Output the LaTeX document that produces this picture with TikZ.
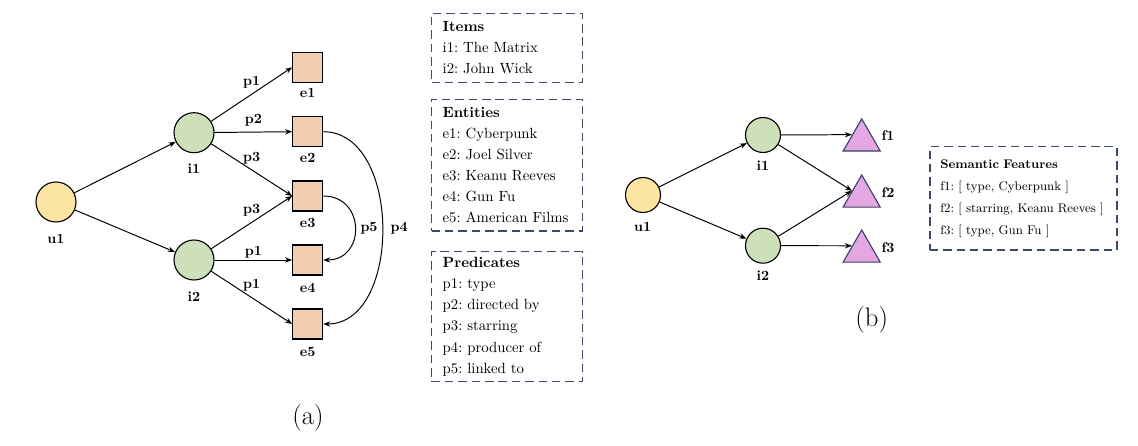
\documentclass[tikz,border=0pt]{standalone}
\usepackage{amsmath}
\usetikzlibrary{arrows.meta, shapes.geometric}

\definecolor{userfill}{HTML}{FCE4A2}
\definecolor{itemfill}{HTML}{CDE0B9}
\definecolor{entfill}{HTML}{F3CDB0}
\definecolor{featfill}{HTML}{E3A8E3}
\definecolor{featdraw}{HTML}{3E3D6B}
\definecolor{boxdraw}{HTML}{3C4A6B}

\tikzset{
    nlbl/.style={font=\fontsize{10}{12}\selectfont\bfseries, inner sep=0pt},
    user/.style={circle, draw, fill=userfill, line width=0.8pt, inner sep=0pt, minimum size=1cm},
    item/.style={circle, draw, fill=itemfill, line width=0.8pt, inner sep=0pt, minimum size=1cm},
    entity/.style={rectangle, draw, fill=entfill, line width=0.8pt, inner sep=0pt, minimum size=0.75cm},
    feat/.style={regular polygon, regular polygon sides=3, draw=featdraw, fill=featfill, line width=0.8pt, inner sep=0pt, minimum size=1.07cm},
    infobox/.style={draw=boxdraw, dash pattern=on 6pt off 3.5pt, line width=1.1pt, align=left, inner xsep=0.275cm, inner ysep=0pt, font=\fontsize{10.5}{15}\selectfont\frenchspacing},
    link/.style={-{Stealth[length=5pt, width=3.8pt]}, line width=0.7pt},
}

\begin{document}
\begin{tikzpicture}[x=0.025cm, y=-0.025cm]
    \useasboundingbox (0,0) rectangle (1138,446);

    % --- (a) user, items, entities ---
    \node[user] (u1a) at (56,202) {};
    \node[item] (i1a) at (194,132.7) {};
    \node[item] (i2a) at (194,260) {};
    \node[entity] (e1) at (307.7,67.3) {};
    \node[entity] (e2) at (307.7,131.7) {};
    \node[entity] (e3) at (307.7,196) {};
    \node[entity] (e4) at (307.7,260) {};
    \node[entity] (e5) at (307.7,324) {};

    % names under the nodes
    \node[nlbl] (u1al) at (56,239.3) {u1};
    \node[nlbl] (i1al) at (194,168.3) {i1};
    \node[nlbl] (i2al) at (194,296.5) {i2};
    \node[nlbl] (e1l) at (307.7,93.3) {e1};
    \node[nlbl] (e2l) at (307.7,158.3) {e2};
    \node[nlbl] (e3l) at (307.7,222.5) {e3};
    \node[nlbl] (e4l) at (307.7,287.5) {e4};
    \node[nlbl] (e5l) at (307.7,351.5) {e5};

    % --- (a) interactions and predicates ---
    \draw[link] (u1a) -- (i1a);
    \draw[link] (u1a) -- (i2a);
    \draw[link] (i1a) -- node[nlbl, above=3.9pt] {p1} (e1.west);
    \draw[link] (i1a) -- node[nlbl, above=3.9pt] {p2} (e2.west);
    \draw[link] (i1a) -- node[nlbl, above=3.9pt] {p3} (e3.west);
    \draw[link] (i2a) -- node[nlbl, above=3.9pt] {p3} (e3.west);
    \draw[link] (i2a) -- node[nlbl, above=0.8pt] {p1} (e4.west);
    \draw[link] (i2a) -- node[nlbl, above=3.9pt] {p1} (e5.west);
    \draw[link] (e3.east) to[out=0, in=0, looseness=1.7]
        node[nlbl, right=3.5pt] {p5} (e4.east);
    \draw[link] (e2.east) to[out=0, in=0, looseness=1.05]
        node[nlbl, right=5.5pt] {p4} (e5.east);

    \node[font=\fontsize{19}{22}\selectfont] (capa) at (308,418) {(a)};

    % --- legend boxes ---
    \node[infobox, minimum height=1.725cm, text width=3.215cm] (items) at (507,47.8)
        {\textbf{Items}\\ i1: The Matrix\\ i2: John Wick};
    \node[infobox, minimum height=3.29cm, text width=3.215cm] (entities) at (507,165.2)
        {\textbf{Entities}\\ e1: Cyberpunk\\ e2: Joel Silver\\ e3: Keanu Reeves\\ e4: Gun Fu\\ e5: American Films};
    \node[infobox, minimum height=3.25cm, text width=3.215cm] (preds) at (507,316.7)
        {\textbf{Predicates}\\ p1: type\\ p2: directed by\\ p3: starring\\ p4: producer of\\ p5: linked to};

    % --- (b) user, items, semantic features ---
    \node[user, minimum size=0.875cm] (u1b) at (643,195) {};
    \node[item, minimum size=0.875cm] (i1b) at (763,135) {};
    \node[item, minimum size=0.875cm] (i2b) at (763,245.7) {};
    \node[feat] (f1) at (861.7,140.3) {};
    \node[feat] (f2) at (861.7,196.4) {};
    \node[feat] (f3) at (861.7,251.4) {};

    \node[nlbl] (u1bl) at (642.7,226.7) {u1};
    \node[nlbl] (i1bl) at (763,165.7) {i1};
    \node[nlbl] (i2bl) at (763,275.7) {i2};
    \node[nlbl] (f1l) at (888,135.7) {f1};
    \node[nlbl] (f2l) at (888,193) {f2};
    \node[nlbl] (f3l) at (888,247.7) {f3};

    \draw[link] (u1b) -- (i1b);
    \draw[link] (u1b) -- (i2b);
    \draw[link] (i1b) -- (f1.side 1);
    \draw[link] (i1b) -- (f2.side 1);
    \draw[link] (i2b) -- (f2.side 1);
    \draw[link] (i2b) -- (f3.side 1);

    \node[font=\fontsize{19}{22}\selectfont] (capb) at (871.7,320) {(b)};

    \node[infobox, inner xsep=0.26cm, minimum height=2.58cm, text width=4.15cm, font=\fontsize{8.9}{15.6}\selectfont\frenchspacing] (semfeat) at (1023.3,198.3)
        {\textbf{Semantic Features}\\ f1: [ type, Cyberpunk ]\\ f2: [ starring, Keanu Reeves ]\\ f3: [ type, Gun Fu ]};
\end{tikzpicture}
\end{document}
